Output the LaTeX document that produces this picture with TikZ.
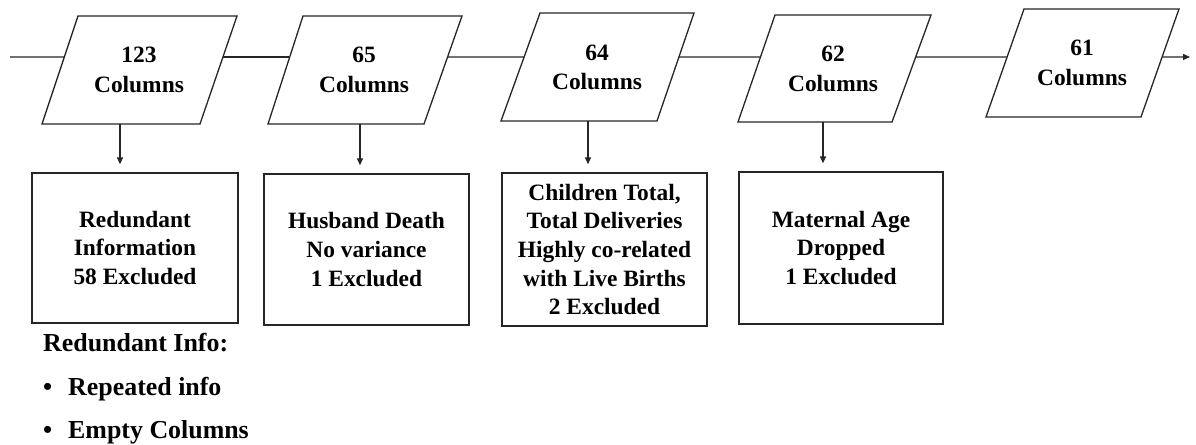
\documentclass[tikz,border=0pt]{standalone}
\usepackage{fontspec}
\setmainfont{Liberation Serif}
\usetikzlibrary{arrows.meta,calc}
\begin{document}
\begin{tikzpicture}[x=1bp,y=-1bp,
  para/.style={draw=black!85, line width=1.3bp, line join=miter, fill=white},
  conn/.style={draw=black!85, line width=1.3bp},
  arr/.style={conn, -{Triangle[length=7bp,width=6bp]}},
  ptext/.style={align=center, font=\bfseries\fontsize{23.5}{29.5}\selectfont, inner sep=0pt},
  box/.style={draw=black!85, line width=1.3bp, align=center, inner sep=0pt,
    font=\bfseries\fontsize{23.5}{28.75}\selectfont},
  ltext/.style={anchor=west, font=\bfseries\fontsize{26}{30}\selectfont, inner sep=0pt}]
\useasboundingbox (0,0) rectangle (1196,445);

% parallelogram corners
\coordinate (p1tl) at (78,16);   \coordinate (p1tr) at (237,16);  \coordinate (p1br) at (200,124); \coordinate (p1bl) at (42,124);
\coordinate (p2tl) at (303,16);  \coordinate (p2tr) at (462,16);  \coordinate (p2br) at (424,124); \coordinate (p2bl) at (268,124);
\coordinate (p3tl) at (540,13);  \coordinate (p3tr) at (694,13);  \coordinate (p3br) at (657,121); \coordinate (p3bl) at (501,121);
\coordinate (p4tl) at (775,15);  \coordinate (p4tr) at (931,15);  \coordinate (p4br) at (892,122); \coordinate (p4bl) at (738,122);
\coordinate (p5tl) at (1024,9);  \coordinate (p5tr) at (1179,9);  \coordinate (p5br) at (1141,117); \coordinate (p5bl) at (986,117);

\foreach \i in {1,...,5}{
  \draw[para] (p\i tl) -- (p\i tr) -- (p\i br) -- (p\i bl) -- cycle;
}

\node[ptext] (p1) at (139,70) {123\\Columns};
\node[ptext] (p2) at (364,70) {65\\Columns};
\node[ptext] (p3) at (597,67.5) {64\\Columns};
\node[ptext] (p4) at (833,69) {62\\Columns};
\node[ptext] (p5) at (1082,63) {61\\Columns};

% connection points on slanted edges
\coordinate (start) at (10,57);
\coordinate (p1l) at ($(p1tl)!0.380!(p1bl)$);
\coordinate (p1r) at ($(p1tr)!0.380!(p1br)$);
\coordinate (p2l) at ($(p2tl)!0.380!(p2bl)$);
\coordinate (p2r) at ($(p2tr)!0.380!(p2br)$);
\coordinate (p3l) at ($(p3tl)!0.407!(p3bl)$);
\coordinate (p3r) at ($(p3tr)!0.407!(p3br)$);
\coordinate (p4l) at ($(p4tl)!0.393!(p4bl)$);
\coordinate (p4r) at ($(p4tr)!0.393!(p4br)$);
\coordinate (p5l) at ($(p5tl)!0.444!(p5bl)$);
\coordinate (p5r) at ($(p5tr)!0.444!(p5br)$);
\coordinate (endpt) at (1190,57);

\draw[conn] (start) -- (p1l);
\draw[conn] (p1r) -- (p2l);
\draw[conn] (p2r) -- (p3l);
\draw[conn] (p3r) -- (p4l);
\draw[conn] (p4r) -- (p5l);
\draw[arr] (p5r) -- (endpt);

% boxes
\node[box, minimum width=206bp, minimum height=150bp] (b1) at (135,248) {Redundant\\Information\\58 Excluded};
\node[box, minimum width=205bp, minimum height=151bp] (b2) at (366.5,249.5) {Husband Death\\No variance\\1 Excluded};
\node[box, minimum width=205bp, minimum height=153bp] (b3) at (604.5,249.5) {Children Total,\\Total Deliveries\\Highly co-related\\with Live Births\\2 Excluded};
\node[box, minimum width=204bp, minimum height=152bp] (b4) at (841,248) {Maternal Age\\Dropped\\1 Excluded};

% down arrows
\coordinate (a1) at (120,124);
\coordinate (a2) at (360,124);
\coordinate (a3) at (588,121);
\coordinate (a4) at (823,122);
\draw[arr, shorten >=8bp] (a1) -- (a1 |- b1.north);
\draw[arr, shorten >=8bp] (a2) -- (a2 |- b2.north);
\draw[arr, shorten >=8bp] (a3) -- (a3 |- b3.north);
\draw[arr, shorten >=8bp] (a4) -- (a4 |- b4.north);

% list
\node[ltext] (l0) at (43,343) {Redundant Info:};
\node[ltext] (bu1) at (43,389) {•};
\node[ltext] (l1) at (68,389) {Repeated info};
\node[ltext] (bu2) at (43,432) {•};
\node[ltext] (l2) at (68,432) {Empty Columns};
\end{tikzpicture}
\end{document}
